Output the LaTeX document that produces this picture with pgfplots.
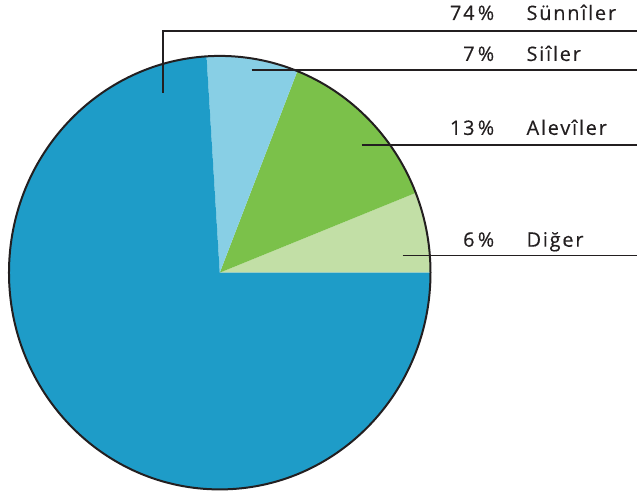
\documentclass[border=0pt]{standalone}
\usepackage{pgfplots}
\pgfplotsset{compat=1.18}
\usepackage{fontspec}
\setmainfont{Open Sans}[LetterSpace=9, FakeBold=0.4]
\definecolor{sun}{HTML}{1E9CC8}
\definecolor{sii}{HTML}{88CFE5}
\definecolor{ale}{HTML}{7BC14A}
\definecolor{dig}{HTML}{C2DFA6}
\definecolor{txt}{HTML}{231F20}
\begin{document}
\begin{tikzpicture}
\begin{axis}[x=1bp,y=1bp,xmin=0,xmax=638,ymin=0,ymax=497,hide axis,clip=false]
\path (axis cs:0,0) rectangle (axis cs:638,497);
% percentages: Diger 6, Aleviler 13, Siiler 7, Sunniler 74
\tikzset{rr/.style={x radius=211bp, y radius=217bp}}
\fill[dig] (axis cs:220,224) -- ++(211bp,0) arc[start angle=0, end angle={6*3.6}, rr] -- cycle;
\fill[ale] (axis cs:220,224) -- ++({211*cos(6*3.6)*1bp},{217*sin(6*3.6)*1bp}) arc[start angle={6*3.6}, end angle={(6+13)*3.6}, rr] -- cycle;
\fill[sii] (axis cs:220,224) -- ++({211*cos(19*3.6)*1bp},{217*sin(19*3.6)*1bp}) arc[start angle={19*3.6}, end angle={(19+7)*3.6}, rr] -- cycle;
\fill[sun] (axis cs:220,224) -- ++({211*cos(26*3.6)*1bp},{217*sin(26*3.6)*1bp}) arc[start angle={26*3.6}, end angle={(26+74)*3.6}, rr] -- cycle;
\draw[txt, line width=2bp] (axis cs:220,224) ellipse[x radius=211bp, y radius=217bp];
% leader lines
\draw[txt, line width=1.5bp] (axis cs:163,404) -- (axis cs:163,466) -- (axis cs:638,466);
\draw[txt, line width=1.5bp] (axis cs:252,427) -- (axis cs:638,427);
\draw[txt, line width=1.5bp] (axis cs:362,352) -- (axis cs:638,352);
\draw[txt, line width=1.5bp] (axis cs:403,241) -- (axis cs:638,241);
% labels
\tikzset{lab/.style={text=txt, inner sep=0pt, font=\fontsize{20}{24}\selectfont}}
\node[lab, anchor=base east] at (axis cs:495,477) {74\,\%};
\node[lab, anchor=base west] at (axis cs:527,477) {Sünnîler};
\node[lab, anchor=base east] at (axis cs:495,436) {7\,\%};
\node[lab, anchor=base west] at (axis cs:527,436) {Siîler};
\node[lab, anchor=base east] at (axis cs:495,362) {13\,\%};
\node[lab, anchor=base west] at (axis cs:527,362) {Alevîler};
\node[lab, anchor=base east] at (axis cs:495,250) {6\,\%};
\node[lab, anchor=base west] at (axis cs:527,250) {Diğer};
\end{axis}
\end{tikzpicture}
\end{document}
